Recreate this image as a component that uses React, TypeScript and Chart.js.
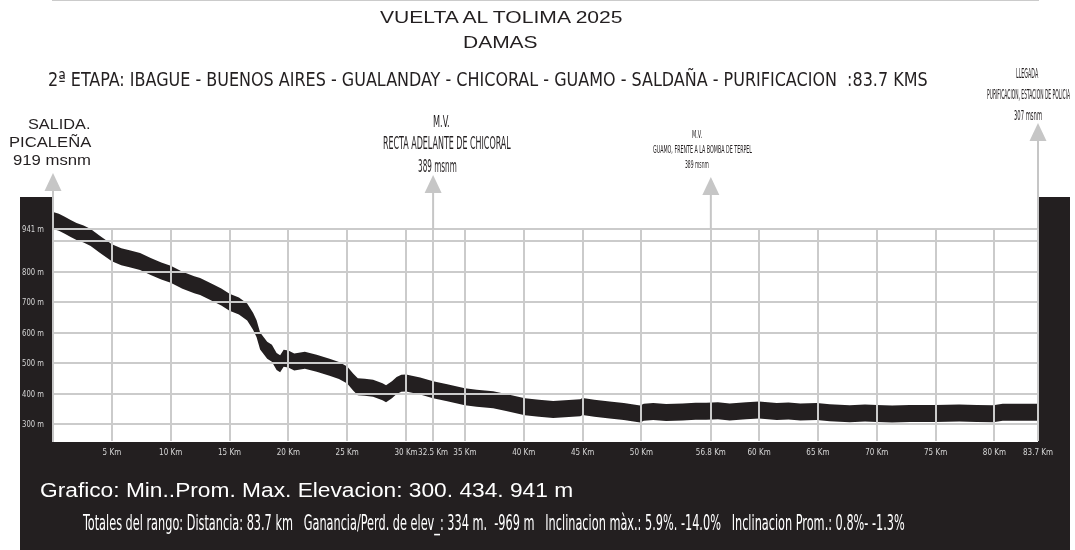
import React, { useEffect, useLayoutEffect, useRef, useState } from 'react';
import { Chart, registerables } from 'chart.js';

Chart.register(...registerables);

// ---- data ----
const distanceKm = [0, 0.5, 1, 1.5, 2, 2.6, 3.2, 4, 5, 5.8, 6.5, 7.4, 8.3, 9.2, 10, 11, 12, 12.5, 13.5, 14.3, 15, 15.8, 16.5, 17, 17.3, 17.6, 18.2, 18.6, 19, 19.3, 19.6, 20, 20.5, 21.4, 22.4, 23.5, 24.3, 25, 25.5, 25.9, 26.5, 27.2, 28, 28.3, 28.8, 29.2, 29.6, 30, 31.2, 32.3, 33.5, 35, 36, 37.4, 38.5, 40.1, 41.3, 42.5, 43.5, 44.8, 45, 46, 47.3, 48.5, 49.9, 50.2, 51, 52.1, 53.5, 54.6, 55.5, 56.5, 57.5, 58.9, 60, 61.5, 62.5, 63.5, 64.9, 66, 67.7, 69, 70, 71.3, 72.8, 74, 75, 77, 78.5, 79.9, 80.7, 82, 83.7];
const elevationM = [941, 935, 925, 915, 905, 897, 885, 862, 835, 822, 815, 806, 790, 775, 764, 745, 730, 724, 705, 690, 672, 660, 640, 610, 585, 545, 515, 505, 478, 470, 488, 486, 476, 482, 472, 459, 448, 433, 410, 395, 393, 390, 378, 372, 385, 399, 406, 407, 397, 385, 375, 362, 357, 352, 343, 329, 324, 320, 322, 326, 330, 324, 318, 313, 305, 311, 313, 310, 312, 314, 314, 316, 312, 316, 318, 313, 315, 312, 313, 309, 306, 308, 307, 305, 307, 307, 307, 308, 307, 306, 311, 311, 311];

const yTickValues = [300, 400, 500, 600, 700, 800, 900, 941];
const yTickLabels = ['300 m', '400 m', '500 m', '600 m', '700 m', '800 m', '', '941 m'];
const xTickValues = [5, 10, 15, 20, 25, 30, 32.3, 35, 40, 45, 50, 55.9, 60, 65, 70, 75, 80, 83.7];
const xTickLabels = ['5 Km', '10 Km', '15 Km', '20 Km', '25 Km', '30 Km', '32.5 Km', '35 Km', '40 Km', '45 Km', '50 Km', '56.8 Km', '60 Km', '65 Km', '70 Km', '75 Km', '80 Km', '83.7 Km'];
const markerKm = [0, 32.3, 55.9, 83.7];

const title1 = 'VUELTA AL TOLIMA 2025';
const title2 = 'DAMAS';
const subtitle = '2ª ETAPA: IBAGUE - BUENOS AIRES - GUALANDAY - CHICORAL - GUAMO - SALDAÑA - PURIFICACION  :83.7 KMS';
const statsLine1 = 'Grafico: Min..Prom. Max. Elevacion: 300. 434. 941 m';
const statsLine2 = 'Totales del rango: Distancia: 83.7 km   Ganancia/Perd. de elev_: 334 m.  -969 m   Inclinacion màx.: 5.9%. -14.0%   Inclinacion Prom.: 0.8%- -1.3%';

// ---- styles ----
const DARK = '#231f20';
const GRID = '#cbcbcb';
const ARROW = '#c6c6c6';
const LABEL = '#d6d6d6';
const BAND_PX = 17;
const SANS = "'Liberation Sans', Arial, sans-serif";
const NARROW = "'Liberation Sans Narrow', 'DejaVu Sans Condensed', 'Liberation Sans', Arial, sans-serif";
const arrowApexY = [173, 175, 177, 123];

function FitText(props: { text: string; x0: number; x1: number; cy: number; size: number; color?: string; family?: string }) {
  const { text, x0, x1, cy, size, color = DARK, family = SANS } = props;
  const ref = useRef<HTMLDivElement>(null);
  const [k, setK] = useState(1);
  useLayoutEffect(() => {
    const measure = () => {
      const el = ref.current;
      if (!el) return;
      const w = el.scrollWidth;
      if (w > 0) setK((x1 - x0) / w);
    };
    measure();
    if ((document as any).fonts && (document as any).fonts.ready) {
      (document as any).fonts.ready.then(measure);
    }
  }, [text, x0, x1, size, family]);
  return (
    <div
      ref={ref}
      style={{
        position: 'absolute',
        left: x0,
        top: cy - size * 0.49,
        fontSize: size,
        lineHeight: `${size}px`,
        whiteSpace: 'pre',
        fontFamily: family,
        color,
        transform: `scaleX(${k})`,
        transformOrigin: '0 50%',
      }}
    >
      {text}
    </div>
  );
}

export default function App() {
  const canvasRef = useRef<HTMLCanvasElement>(null);
  const [yLabelPos, setYLabelPos] = useState<{ x: number; y: number }[]>([]);

  useLayoutEffect(() => {
    document.body.style.margin = '0';
    document.body.style.overflow = 'hidden';
  }, []);

  useEffect(() => {
    const canvas = canvasRef.current;
    if (!canvas) return;

    const bandPlugin = {
      id: 'band',
      beforeDatasetsDraw(chart: any) {
        const { ctx } = chart;
        const pts = chart.getDatasetMeta(0).data;
        if (!pts.length) return;
        ctx.save();
        ctx.beginPath();
        pts.forEach((p: any, i: number) => {
          if (i === 0) ctx.moveTo(p.x, p.y - BAND_PX);
          else ctx.lineTo(p.x, p.y - BAND_PX);
        });
        for (let i = pts.length - 1; i >= 0; i--) ctx.lineTo(pts[i].x, pts[i].y);
        ctx.closePath();
        ctx.fillStyle = DARK;
        ctx.fill();
        ctx.restore();
      },
    };

    const overlayPlugin = {
      id: 'overlay',
      afterDraw(chart: any) {
        const { ctx, chartArea: a } = chart;
        const xs = chart.scales.x;
        ctx.save();
        // left dark bar of the frame
        ctx.fillStyle = DARK;
        ctx.fillRect(a.left - 33, 197, 32, 550 - 197);
        // arrows
        markerKm.forEach((km, i) => {
          const x = xs.getPixelForValue(km);
          const apex = arrowApexY[i];
          const base = apex + 18;
          ctx.strokeStyle = ARROW;
          ctx.lineWidth = 2;
          ctx.beginPath();
          ctx.moveTo(x, base);
          ctx.lineTo(x, i === 0 ? a.bottom : a.top);
          ctx.stroke();
          ctx.fillStyle = ARROW;
          ctx.beginPath();
          ctx.moveTo(x, apex);
          ctx.lineTo(x + 8.5, base);
          ctx.lineTo(x - 8.5, base);
          ctx.closePath();
          ctx.fill();
        });
        ctx.restore();
      },
    };

    const chart = new Chart(canvas, {
      type: 'line',
      data: {
        datasets: [
          {
            label: 'Elevación',
            data: distanceKm.map((d, i) => ({ x: d, y: elevationM[i] })),
            borderWidth: 0,
            borderColor: 'rgba(0,0,0,0)',
            pointRadius: 0,
            fill: false,
          },
        ],
      },
      options: {
        animation: false,
        responsive: false,
        devicePixelRatio: 1,
        layout: { padding: { left: 20, right: 37, top: 229, bottom: 0 } },
        plugins: { legend: { display: false }, tooltip: { enabled: false }, title: { display: false } },
        scales: {
          x: {
            type: 'linear',
            min: 0,
            max: 83.7,
            afterBuildTicks: (s: any) => {
              s.ticks = xTickValues.map((v) => ({ value: v }));
            },
            afterFit: (s: any) => {
              s.height = 108;
            },
            ticks: {
              autoSkip: false,
              maxRotation: 0,
              padding: 6,
              color: LABEL,
              font: { family: NARROW, size: 8 },
              callback: (_v: any, i: number) => xTickLabels[i],
            },
            grid: { color: GRID, lineWidth: 2, drawTicks: false, z: 1 },
            border: { display: true, color: GRID, width: 2 },
          },
          y: {
            type: 'linear',
            min: 241,
            max: 941,
            afterBuildTicks: (s: any) => {
              s.ticks = yTickValues.map((v) => ({ value: v }));
            },
            afterFit: (s: any) => {
              s.width = 33;
            },
            ticks: { display: false },
            grid: { color: GRID, lineWidth: 2, drawTicks: false, z: 1 },
            border: { display: false },
          },
        },
      } as any,
      plugins: [bandPlugin, overlayPlugin],
    });

    const ys = chart.scales.y as any;
    setYLabelPos(yTickValues.map((v) => ({ x: chart.chartArea.left - 9, y: ys.getPixelForValue(v) })));

    return () => chart.destroy();
  }, []);

  return (
    <div style={{ position: 'relative', width: 1075, height: 550, background: '#ffffff', overflow: 'hidden' }}>
      <div style={{ position: 'absolute', left: 20, top: 197, width: 1050, height: 353, background: DARK }} />
      <div style={{ position: 'absolute', left: 53, top: 197, width: 985, height: 245, background: '#ffffff' }} />
      <canvas ref={canvasRef} width={1075} height={550} style={{ position: 'absolute', left: 0, top: 0 }} />

      {yLabelPos.map((p, i) =>
        yTickLabels[i] ? (
          <div
            key={i}
            style={{
              position: 'absolute',
              left: p.x - 60,
              width: 60,
              top: p.y - 5,
              height: 10,
              lineHeight: '10px',
              fontSize: 9.5,
              fontFamily: NARROW,
              color: LABEL,
              textAlign: 'right',
              whiteSpace: 'pre',
              transform: 'scaleX(0.8)',
              transformOrigin: '100% 50%',
            }}
          >
            {yTickLabels[i]}
          </div>
        ) : null
      )}

      <FitText text={title1} x0={380} x1={623} cy={17} size={17} />
      <FitText text={title2} x0={463} x1={537} cy={42} size={17} />
      <FitText text={subtitle} x0={48} x1={928} cy={79} size={20} family={NARROW} />

      <FitText text="SALIDA." x0={28} x1={91} cy={123} size={15} />
      <FitText text="PICALEÑA" x0={9} x1={91} cy={141} size={15} />
      <FitText text="919 msnm" x0={13} x1={91} cy={159} size={15} />

      <FitText text="M.V." x0={433} x1={450} cy={122} size={15} family={NARROW} />
      <FitText text="RECTA ADELANTE DE CHICORAL" x0={383} x1={511} cy={143} size={17} family={NARROW} />
      <FitText text="389 msnm" x0={418} x1={457} cy={166} size={17} family={NARROW} />

      <FitText text="M.V." x0={692} x1={702} cy={134} size={11} family={NARROW} />
      <FitText text="GUAMO, FRENTE A LA BOMBA DE TERPEL" x0={653} x1={752} cy={149} size={11} family={NARROW} />
      <FitText text="389 msnm" x0={685} x1={709} cy={164} size={11} family={NARROW} />

      <FitText text="LLEGADA" x0={1016} x1={1038} cy={73} size={14} family={NARROW} />
      <FitText text="PURIFICACION, ESTACION DE POLICIA" x0={987} x1={1070} cy={94} size={14} family={NARROW} />
      <FitText text="307 msnm" x0={1014} x1={1042} cy={115} size={14} family={NARROW} />

      <FitText text={statsLine1} x0={40} x1={573} cy={490} size={20} color="#ffffff" />
      <FitText text={statsLine2} x0={83} x1={905} cy={523} size={21} color="#ffffff" family={NARROW} />
    </div>
  );
}
